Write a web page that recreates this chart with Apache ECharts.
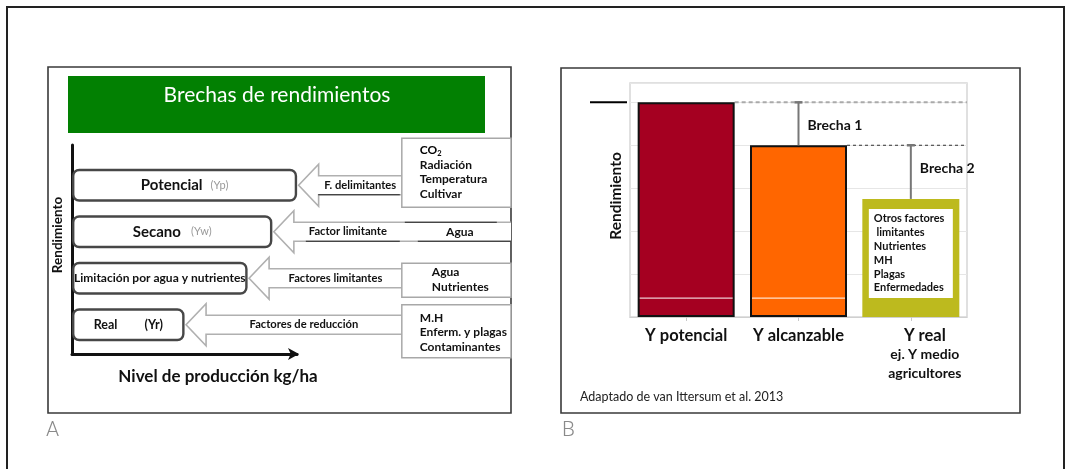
<!DOCTYPE html>
<html><head><meta charset="utf-8">
<script src="https://cdn.jsdelivr.net/npm/echarts@6/dist/echarts.min.js"></script>
<style>html,body{margin:0;padding:0;background:#fff}#c{width:1066px;height:469px}</style>
</head><body><div id="c"></div>
<script>
// ---------- Panel A data ----------
const titleA = 'Brechas de rendimientos';
const levelNames = ['Potencial', 'Secano', 'Limitación por agua y nutrientes', 'Real'];
const levelTags = ['(Yp)', '(Yw)', '', '(Yr)'];
const levelValues = [100, 89, 78, 50];
const arrowLabels = ['F. delimitantes', 'Factor limitante', 'Factores limitantes', 'Factores de reducción'];
const factorLists = [
  ['CO2', 'Radiación', 'Temperatura', 'Cultivar'],
  ['Agua'],
  ['Agua', 'Nutrientes'],
  ['M.H', 'Enferm. y plagas', 'Contaminantes']
];
const axisNameA = 'Nivel de producción kg/ha';
const yNameA = 'Rendimiento';

// ---------- Panel B data ----------
const yieldCategories = ['Y potencial', 'Y alcanzable', 'Y real'];
const yieldSubLabels = [[], [], ['ej. Y medio', 'agricultores']];
const yieldValues = [5, 4, 2.75];
const baseValue = 0.44;
const gapNames = ['Brecha 1', 'Brecha 2'];
const realFactors = ['Otros factores', ' limitantes', 'Nutrientes', 'MH', 'Plagas', 'Enfermedades'];
const yNameB = 'Rendimiento';
const sourceNote = 'Adaptado de van Ittersum et al. 2013';

// ---------- layout constants ----------
const FONT = 'Lato, "Open Sans", sans-serif';
const FACTOR_X = 146.5;
const FACTOR_BOX = [
  { dy: -47, h: 69, tx: 18, ty: 12 },
  null,
  { dy: -15, h: 34, tx: 30, ty: 9 },
  { dy: -20, h: 53, tx: 18, ty: 13 }
];
const NAME_SIZE = [15, 15, 12, 12.5];
const TAG_GAP = [8, 10, 0, 27];
const BAR_W = 97;
const barColors = ['#A50021', '#FF6600', '#BDBA1E'];

const chart = echarts.init(document.getElementById('c'), null, { renderer: 'canvas' });

function renderLevel(params, api) {
  const i = params.dataIndex;
  const cs = params.coordSys;
  const tip = api.coord([api.value(0), i]);
  const cy = tip[1];
  const x0 = tip[0] + 1.5;
  const x1 = api.coord([FACTOR_X, i])[0];
  const xr = cs.x + cs.width;
  const hl = 20, hh = 21, sh = 9.5;
  const shaftEnd = i === 1 ? xr : x1;
  const ch = [];
  ch.push({ type: 'polygon', shape: { points: [[x0, cy], [x0 + hl, cy - hh], [x0 + hl, cy - sh], [shaftEnd, cy - sh], [shaftEnd, cy + sh], [x0 + hl, cy + sh], [x0 + hl, cy + hh]] }, style: { fill: '#fff' } });
  ch.push({ type: 'polyline', shape: { points: [[shaftEnd, cy - sh], [x0 + hl, cy - sh], [x0 + hl, cy - hh], [x0, cy], [x0 + hl, cy + hh], [x0 + hl, cy + sh], [shaftEnd, cy + sh]] }, style: { fill: null, stroke: '#b0b0b0', lineWidth: 1.6 } });
  const lx = (x0 + hl + x1) / 2;
  ch.push({ type: 'text', style: { text: arrowLabels[i], x: lx, y: cy, align: 'center', verticalAlign: 'middle', font: 'bold 11.2px ' + FONT, fill: '#111' } });
  if (i <= 1) {
    ch.push({ type: 'line', shape: { x1: lx - 42, y1: cy + sh, x2: x1 - 2, y2: cy + sh }, style: { stroke: '#222', lineWidth: 1.2 } });
  }
  const fb = FACTOR_BOX[i];
  if (fb) {
    const top = cy + fb.dy;
    ch.push({ type: 'rect', shape: { x: x1, y: top, width: xr - x1, height: fb.h }, style: { fill: '#fff', stroke: '#a8a8a8', lineWidth: 1.5 } });
    factorLists[i].forEach((t, j) => {
      const y = top + fb.ty + j * 14.5;
      if (t === 'CO2') {
        ch.push({ type: 'text', style: { text: '{a|CO}{b|2}', x: x1 + fb.tx, y: y, align: 'left', verticalAlign: 'middle',
          rich: { a: { fontFamily: FONT, fontWeight: 'bold', fontSize: 12, color: '#111' }, b: { fontFamily: FONT, fontWeight: 'bold', fontSize: 7.5, color: '#111', padding: [6, 0, 0, 0] } } } });
      } else {
        ch.push({ type: 'text', style: { text: t, x: x1 + fb.tx, y: y, align: 'left', verticalAlign: 'middle', font: 'bold 12px ' + FONT, fill: '#111' } });
      }
    });
  } else {
    // Secano: open factor area with underlined text
    ch.push({ type: 'line', shape: { x1: x1 + 3, y1: cy - sh, x2: x1 + 95, y2: cy - sh }, style: { stroke: '#222', lineWidth: 1.2 } });
    ch.push({ type: 'line', shape: { x1: x1 + 16, y1: cy + sh, x2: xr, y2: cy + sh }, style: { stroke: '#222', lineWidth: 1.2 } });
    ch.push({ type: 'text', style: { text: factorLists[i][0], x: x1 + 58, y: cy, align: 'center', verticalAlign: 'middle', font: 'bold 12px ' + FONT, fill: '#111' } });
  }
  return { type: 'group', children: ch };
}

function renderBarDetail(params, api) {
  const i = params.dataIndex;
  const top = api.coord([i, api.value(1)]);
  const base = api.coord([i, baseValue]);
  const cx = top[0];
  if (i < 2) {
    return { type: 'line', shape: { x1: cx - BAR_W / 2 + 2, y1: base[1], x2: cx + BAR_W / 2 - 2, y2: base[1] }, style: { stroke: '#fff', lineWidth: 1 } };
  }
  const ch = [{ type: 'rect', shape: { x: cx - 42, y: top[1] + 10, width: 84, height: base[1] - top[1] - 10 }, style: { fill: '#fff' } }];
  realFactors.forEach((t, j) => {
    ch.push({ type: 'text', style: { text: t, x: cx - 37, y: top[1] + 20 + j * 13.8, align: 'left', verticalAlign: 'middle', font: 'bold 11px ' + FONT, fill: '#111' } });
  });
  return { type: 'group', children: ch };
}

function renderGap(params, api) {
  const i = params.dataIndex;
  const p1 = api.coord([api.value(0), api.value(1)]);
  const p2 = api.coord([api.value(0), api.value(2)]);
  return { type: 'group', children: [
    { type: 'line', shape: { x1: p1[0], y1: p1[1], x2: p2[0], y2: p2[1] }, style: { stroke: '#777', lineWidth: 2 } },
    { type: 'line', shape: { x1: p2[0] - 4, y1: p2[1], x2: p2[0] + 4, y2: p2[1] }, style: { stroke: '#777', lineWidth: 2.5 } },
    { type: 'text', style: { text: gapNames[i], x: p2[0] + 9, y: p2[1] + 23, align: 'left', verticalAlign: 'middle', font: 'bold 14px ' + FONT, fill: '#111' } }
  ] };
}

function renderLevelLine(params, api) {
  const i = params.dataIndex;
  const cs = params.coordSys;
  const p = api.coord([api.value(0), api.value(1)]);
  const xs = p[0] + BAR_W / 2;
  const xe = cs.x + cs.width;
  const ch = [{ type: 'line', shape: { x1: xs, y1: p[1], x2: xe, y2: p[1] },
    style: i === 0 ? { stroke: '#aaa', lineWidth: 2, lineDash: [4, 3] } : { stroke: '#333', lineWidth: 1, lineDash: [3, 3] } }];
  if (i === 0) ch.push({ type: 'line', shape: { x1: cs.x - 40, y1: p[1], x2: cs.x - 3, y2: p[1] }, style: { stroke: '#000', lineWidth: 2 } });
  return { type: 'group', children: ch };
}

const richA = {};
levelNames.forEach((n, i) => {
  richA['n' + i] = { fontFamily: FONT, fontWeight: 'bold', fontSize: NAME_SIZE[i], color: '#111' };
  richA['t' + i] = i === 3
    ? { fontFamily: FONT, fontWeight: 'bold', fontSize: 12.5, color: '#111', padding: [0, 0, 0, TAG_GAP[i]] }
    : { fontFamily: FONT, fontSize: 11, color: '#999', padding: [0, 0, 0, TAG_GAP[i]] };
});

const option = {
  backgroundColor: '#fff',
  animation: false,
  grid: [
    { left: 72, top: 162, width: 439, height: 186 },
    { left: 72, top: 145, width: 225, height: 209 },
    { left: 630, top: 83, width: 337, height: 234, show: true, borderColor: '#d6d6d6', borderWidth: 1.5, backgroundColor: 'transparent' }
  ],
  xAxis: [
    { gridIndex: 0, type: 'value', min: 0, max: 195, show: false },
    { gridIndex: 1, type: 'value', min: 0, max: 1,
      axisLine: { show: true, symbol: ['none', 'arrow'], symbolSize: [9, 11], symbolOffset: [0, 2], lineStyle: { color: '#111', width: 3 } },
      axisTick: { show: false }, axisLabel: { show: false }, splitLine: { show: false } },
    { gridIndex: 2, type: 'category',
      data: yieldCategories.map((c, i) => i === 2 ? { value: c, textStyle: { padding: [0, 0, 0, 28] } } : c),
      axisLine: { show: true, lineStyle: { color: '#d0d0d0', width: 1 } },
      axisTick: { show: true, alignWithLabel: true, length: 4, lineStyle: { color: '#c8c8c8' } },
      axisLabel: { interval: 0, margin: 9, lineHeight: 19,
        formatter: (v, idx) => '{a|' + v + '}' + yieldSubLabels[idx].map(s => '\n{b|' + s + '}').join(''),
        rich: { a: { fontFamily: FONT, fontWeight: 'bold', fontSize: 16.5, color: '#111', lineHeight: 19 },
                b: { fontFamily: FONT, fontWeight: 'bold', fontSize: 14, color: '#111', lineHeight: 19 } } } }
  ],
  yAxis: [
    { gridIndex: 0, type: 'category', data: levelNames, inverse: true, show: false },
    { gridIndex: 1, type: 'value', min: 0, max: 1,
      axisLine: { show: true, lineStyle: { color: '#111', width: 3 } },
      axisTick: { show: false }, axisLabel: { show: false }, splitLine: { show: false } },
    { gridIndex: 2, type: 'value', min: 0, max: 5.45, interval: 1,
      name: yNameB, nameLocation: 'middle', nameGap: 6, nameRotate: 90,
      nameTextStyle: { fontFamily: FONT, fontWeight: 'bold', fontSize: 15.5, color: '#111', padding: [0, 0, 0, 8] },
      axisLine: { show: false }, axisTick: { show: false }, axisLabel: { show: false },
      splitLine: { show: true, lineStyle: { color: '#e6e6e6', width: 1 } } }
  ],
  series: [
    { type: 'bar', xAxisIndex: 0, yAxisIndex: 0, data: levelValues, barWidth: 33, z: 3,
      itemStyle: { color: '#fff', borderColor: '#474747', borderWidth: 2.4, borderRadius: 6 },
      label: { show: true, position: 'inside',
        formatter: p => '{n' + p.dataIndex + '|' + levelNames[p.dataIndex] + '}' + (levelTags[p.dataIndex] ? '{t' + p.dataIndex + '|' + levelTags[p.dataIndex] + '}' : ''),
        rich: richA } },
    { type: 'custom', xAxisIndex: 0, yAxisIndex: 0, z: 4, renderItem: renderLevel,
      data: levelValues.map((v, i) => [v, i]) },
    { type: 'line', xAxisIndex: 1, yAxisIndex: 1, data: [], silent: true },
    { type: 'bar', xAxisIndex: 2, yAxisIndex: 2, barWidth: BAR_W, z: 3,
      data: yieldValues.map((v, i) => ({ value: v, itemStyle: i < 2 ? { color: barColors[i], borderColor: '#111', borderWidth: 2 } : { color: barColors[i], borderWidth: 0 } })) },
    { type: 'custom', xAxisIndex: 2, yAxisIndex: 2, z: 5, renderItem: renderBarDetail,
      data: yieldValues.map((v, i) => [i, v]) },
    { type: 'custom', xAxisIndex: 2, yAxisIndex: 2, z: 5, renderItem: renderGap,
      data: gapNames.map((g, i) => [i + 1, yieldValues[i + 1], yieldValues[i]]) },
    { type: 'custom', xAxisIndex: 2, yAxisIndex: 2, z: 2, renderItem: renderLevelLine,
      data: [[0, yieldValues[0]], [1, yieldValues[1]]] }
  ],
  graphic: [
    { type: 'rect', z: -1, shape: { x: 7, y: 7, width: 1057, height: 475 }, style: { fill: null, stroke: '#222', lineWidth: 2 } },
    { type: 'rect', z: -1, shape: { x: 48, y: 67, width: 463, height: 346 }, style: { fill: null, stroke: '#3a3a3a', lineWidth: 1.6 } },
    { type: 'rect', z: -1, shape: { x: 561, y: 68, width: 459, height: 345 }, style: { fill: null, stroke: '#3a3a3a', lineWidth: 1.6 } },
    { type: 'rect', shape: { x: 68, y: 76, width: 417, height: 57 }, style: { fill: '#028002' } },
    { type: 'text', style: { text: titleA, x: 277, y: 95, align: 'center', verticalAlign: 'middle', font: '21px ' + FONT, fill: '#fff' } },
    { type: 'text', rotation: Math.PI / 2, x: 58, y: 235, style: { text: yNameA, x: 0, y: 0, align: 'center', verticalAlign: 'middle', font: 'bold 13.5px ' + FONT, fill: '#111' } },
    { type: 'text', style: { text: axisNameA, x: 218, y: 377, align: 'center', verticalAlign: 'middle', font: 'bold 17px ' + FONT, fill: '#111' } },
    { type: 'text', style: { text: sourceNote, x: 580, y: 397, align: 'left', verticalAlign: 'middle', font: '12.5px ' + FONT, fill: '#222' } },
    { type: 'text', style: { text: 'A', x: 46, y: 431, align: 'left', verticalAlign: 'middle', font: '300 21px Roboto', fill: '#8a8a8a' } },
    { type: 'text', style: { text: 'B', x: 562, y: 431, align: 'left', verticalAlign: 'middle', font: '300 21px Roboto', fill: '#8a8a8a' } }
  ]
};
chart.setOption(option);
</script>
</body></html>
